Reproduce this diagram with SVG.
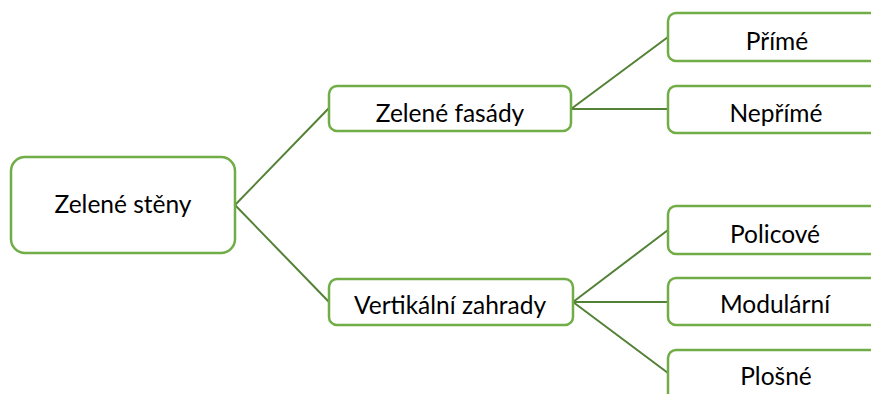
<svg xmlns="http://www.w3.org/2000/svg" width="871" height="394" viewBox="0 0 871 394">
<style>
.box{fill:#fff;stroke:#70AD47;stroke-width:2.5}
.lbl{font-family:Lato,"Open Sans",sans-serif;font-size:24.5px;fill:#000;text-anchor:middle}
.con{stroke:#538135;stroke-width:2;fill:none}
</style>
<rect width="871" height="394" fill="#fff"/>
<g id="connectors">
<line class="con" x1="235" y1="205" x2="329" y2="108"/>
<line class="con" x1="235" y1="205" x2="329" y2="302"/>
<line class="con" x1="571" y1="109" x2="668" y2="37"/>
<line class="con" x1="571" y1="109" x2="668" y2="109"/>
<line class="con" x1="573" y1="302" x2="668" y2="230"/>
<line class="con" x1="573" y1="302" x2="668" y2="302"/>
<line class="con" x1="573" y1="302" x2="668" y2="373"/>
</g>
<g id="n-steny"><rect class="box" x="11" y="157" width="224" height="96" rx="14"/><text class="lbl" x="123" y="213">Zelené stěny</text></g>
<g id="n-fasady"><rect class="box" x="329" y="86" width="242" height="45" rx="8"/><text class="lbl" x="450" y="122">Zelené fasády</text></g>
<g id="n-zahrady"><rect class="box" x="329" y="279" width="244" height="46" rx="8"/><text class="lbl" x="450" y="314">Vertikální zahrady</text></g>
<g id="n-prime"><rect class="box" x="668" y="13" width="220" height="48" rx="8"/><text class="lbl" x="777" y="50">Přímé</text></g>
<g id="n-neprime"><rect class="box" x="668" y="86" width="220" height="47" rx="8"/><text class="lbl" x="776" y="122">Nepřímé</text></g>
<g id="n-policove"><rect class="box" x="668" y="206" width="220" height="48" rx="8"/><text class="lbl" x="775" y="243">Policové</text></g>
<g id="n-modularni"><rect class="box" x="668" y="278" width="220" height="47" rx="8"/><text class="lbl" x="775" y="313">Modulární</text></g>
<g id="n-plosne"><rect class="box" x="668" y="350" width="220" height="60" rx="8"/><text class="lbl" x="776" y="385">Plošné</text></g>
</svg>
